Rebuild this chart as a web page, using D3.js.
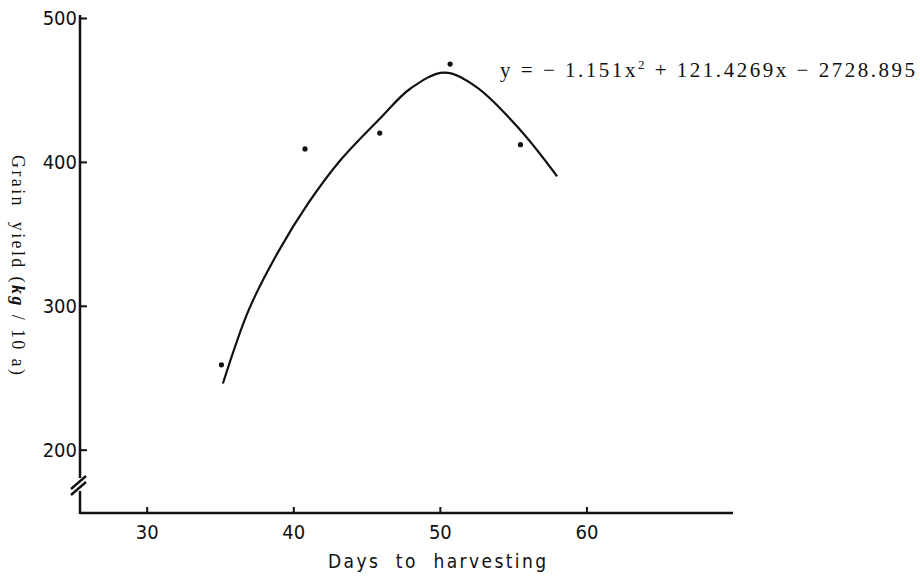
<!DOCTYPE html>
<html>
<head>
<meta charset="utf-8">
<script src="https://cdn.jsdelivr.net/npm/d3@7"></script>
<style>
  body { margin: 0; background: #fff; }
  svg { display: block; }
  .tick text { font-family: "DejaVu Sans Condensed", "Liberation Sans", Arial, sans-serif; font-size: 20px; fill: #111; }
  .pre { white-space: pre; }
</style>
</head>
<body>
<svg width="920" height="576"></svg>
<script>
// observed points
var obsDays  = [35.1, 40.8, 45.9, 50.7, 55.5];
var obsYield = [259, 409, 420, 468, 412];

// fitted curve as drawn
var curveDays  = [35.2, 37.0, 39.0, 41.0, 43.2, 45.9, 48.0, 50.3, 52.5, 55.5, 58.0];
var curveYield = [246, 298, 338, 371, 401, 430, 451, 462, 452, 422, 390];

var xTicks = [30, 40, 50, 60];
var yTicks = [200, 300, 400, 500];
var equation = "y = − 1.151x";
var equationRest = " + 121.4269x − 2728.895";

var svg = d3.select("svg");

var x = d3.scaleLinear().domain([25.45, 70]).range([80, 733]),
    y = d3.scaleLinear().domain([156, 500]).range([513, 18]);

var ink = "#111";

// x axis
svg.append("g")
    .attr("transform", "translate(0," + y.range()[0] + ")")
    .call(d3.axisBottom(x).tickValues(xTicks).tickSizeInner(-6).tickSizeOuter(0).tickPadding(12))
    .call(function(g) { g.select(".domain").remove(); })
    .call(function(g) { g.selectAll(".tick line").attr("stroke", ink).attr("stroke-width", 2); });

svg.append("line")
    .attr("x1", x.range()[0]).attr("x2", x.range()[1])
    .attr("y1", y.range()[0]).attr("y2", y.range()[0])
    .attr("stroke", ink).attr("stroke-width", 2.5);

// y axis
svg.append("g")
    .attr("transform", "translate(" + x.range()[0] + ",0)")
    .call(d3.axisLeft(y).tickValues(yTicks).tickSizeInner(-7).tickSizeOuter(0).tickPadding(3))
    .call(function(g) { g.select(".domain").remove(); })
    .call(function(g) { g.selectAll(".tick line").attr("stroke", ink).attr("stroke-width", 2); });

// y axis line with a break near the bottom
var ax = x.range()[0], yBot = y.range()[0];
svg.append("line")
    .attr("x1", ax).attr("x2", ax)
    .attr("y1", y(500) - 3).attr("y2", yBot - 35)
    .attr("stroke", ink).attr("stroke-width", 2.5);
svg.append("line")
    .attr("x1", ax).attr("x2", ax)
    .attr("y1", yBot - 22).attr("y2", yBot + 1)
    .attr("stroke", ink).attr("stroke-width", 2.5);
[-31, -25].forEach(function(off) {
  svg.append("line")
      .attr("x1", ax - 9).attr("y1", yBot + off + 7)
      .attr("x2", ax + 6).attr("y2", yBot + off - 6)
      .attr("stroke", ink).attr("stroke-width", 2.4);
});

// fitted curve
var line = d3.line()
    .curve(d3.curveCatmullRom.alpha(0.5))
    .x(function(d) { return x(d[0]); })
    .y(function(d) { return y(d[1]); });

svg.append("path")
    .datum(d3.zip(curveDays, curveYield))
    .attr("d", line)
    .attr("fill", "none")
    .attr("stroke", ink)
    .attr("stroke-width", 2.2);

// observed points
svg.selectAll(".dot")
    .data(d3.zip(obsDays, obsYield))
  .enter().append("circle")
    .attr("class", "dot")
    .attr("cx", function(d) { return x(d[0]); })
    .attr("cy", function(d) { return y(d[1]); })
    .attr("r", 2.6)
    .attr("fill", ink);

// regression equation
var eq = svg.append("text")
    .attr("class", "pre")
    .attr("x", 500).attr("y", 77)
    .attr("font-family", "Liberation Serif, Times New Roman, serif")
    .attr("font-size", 21)
    .attr("fill", ink);
eq.append("tspan").text(equation);
eq.append("tspan").attr("font-size", 13).attr("dy", -8).text("2");
eq.append("tspan").attr("dy", 8).text(equationRest);
eq.attr("textLength", 415).attr("lengthAdjust", "spacing");

// axis titles
svg.append("text")
    .attr("class", "pre")
    .attr("x", 437).attr("y", 568)
    .attr("text-anchor", "middle")
    .attr("font-family", "DejaVu Sans Condensed, Liberation Sans, Arial, sans-serif")
    .attr("font-size", 19)
    .attr("fill", ink)
    .attr("textLength", 218).attr("lengthAdjust", "spacing")
    .text("Days  to  harvesting");

var yl = svg.append("text")
    .attr("class", "pre")
    .attr("transform", "translate(18,265) rotate(90)")
    .attr("text-anchor", "middle")
    .attr("dy", "0.35em")
    .attr("font-family", "Liberation Serif, Times New Roman, serif")
    .attr("font-size", 18)
    .attr("fill", ink);
yl.append("tspan").text("Grain  yield (");
yl.append("tspan").attr("font-weight", "bold").attr("font-style", "italic").text("kg");
yl.append("tspan").text(" / 10 a)");
yl.attr("textLength", 220).attr("lengthAdjust", "spacing");
</script>
</body>
</html>
